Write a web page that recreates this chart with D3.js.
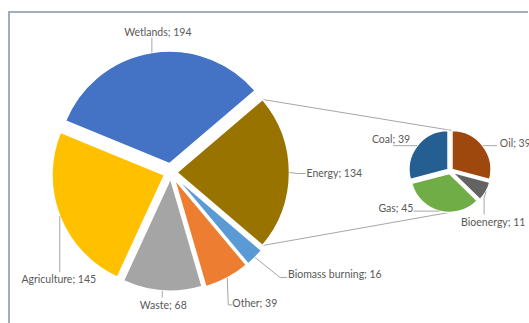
<!DOCTYPE html>
<html>
<head>
<meta charset="utf-8">
<script src="https://cdn.jsdelivr.net/npm/d3@7"></script>
<style>
  body { margin: 0; background: #fff; }
  svg text { font-family: Lato, "Liberation Sans", sans-serif; font-size: 10.5px; fill: #595959; }
</style>
</head>
<body>
<div id="chart"></div>
<script>
// main pie
var mainNames = ["Wetlands", "Energy", "Biomass burning", "Other", "Waste", "Agriculture"];
var mainValues = [194, 134, 16, 39, 68, 145];
var mainColors = ["#4472c4", "#997300", "#5b9bd5", "#ed7d31", "#a5a5a5", "#ffc000"];
// energy breakdown
var subNames = ["Oil", "Bioenergy", "Gas", "Coal"];
var subValues = [39, 11, 45, 39];
var subColors = ["#9e480e", "#636363", "#70ad47", "#255e91"];

var width = 529, height = 323;
var svg = d3.select("#chart").append("svg")
  .attr("width", width).attr("height", height);

// frame
svg.append("path")
  .attr("d", "M9," + height + "V12H" + (width - 1))
  .attr("fill", "none").attr("stroke", "#a4acbf").attr("stroke-width", 2);

var lineColor = "#a6a6a6";

var main = { cx: 171, cy: 172.5, r: 112.5 };
var sub = { cx: 450, cy: 171, r: 39 };

var total = d3.sum(mainValues);
var eIdx = 1;
var before = d3.sum(mainValues.slice(0, eIdx)) + mainValues[eIdx] / 2;
var start = Math.PI / 2 - before / total * 2 * Math.PI;

var mainPie = d3.pie().sort(null).startAngle(start).endAngle(start + 2 * Math.PI);
var mainArcs = mainPie(mainValues);
var mainExplode = [9, 6, 7, 7, 6, 7];

var subPie = d3.pie().sort(null);
var subArcs = subPie(subValues);
var subExplode = 2.5;

function dir(a) { return [Math.sin(a), -Math.cos(a)]; }
function mid(d) { return (d.startAngle + d.endAngle) / 2; }

var arcMain = d3.arc().innerRadius(0).outerRadius(main.r);
var arcSub = d3.arc().innerRadius(0).outerRadius(sub.r);

function offsetOf(d, e) { var v = dir(mid(d)); return [v[0] * e, v[1] * e]; }

// connector lines between energy slice and breakdown pie
var ea = mainArcs[eIdx], eo = offsetOf(ea, mainExplode[eIdx]);
var eTop = [main.cx + eo[0] + dir(ea.startAngle)[0] * main.r, main.cy + eo[1] + dir(ea.startAngle)[1] * main.r];
var eBot = [main.cx + eo[0] + dir(ea.endAngle)[0] * main.r, main.cy + eo[1] + dir(ea.endAngle)[1] * main.r];
var so = offsetOf(subArcs[0], subExplode);
var sTop = [sub.cx + so[0], sub.cy + so[1] - sub.r];
var go = offsetOf(subArcs[2], subExplode);
var sBot = [sub.cx + go[0], sub.cy + go[1] + sub.r];
svg.append("line").attr("x1", eTop[0]).attr("y1", eTop[1]).attr("x2", sTop[0]).attr("y2", sTop[1])
  .attr("stroke", lineColor).attr("stroke-width", 1);
svg.append("line").attr("x1", eBot[0]).attr("y1", eBot[1]).attr("x2", sBot[0]).attr("y2", sBot[1])
  .attr("stroke", lineColor).attr("stroke-width", 1);

svg.append("g").selectAll("path").data(mainArcs).enter().append("path")
  .attr("d", arcMain)
  .attr("transform", function(d, i) {
    var o = offsetOf(d, mainExplode[i]);
    return "translate(" + (main.cx + o[0]) + "," + (main.cy + o[1]) + ")";
  })
  .attr("fill", function(d, i) { return mainColors[i]; })
  .attr("stroke", "#fff").attr("stroke-width", 1.5);

svg.append("g").selectAll("path").data(subArcs).enter().append("path")
  .attr("d", arcSub)
  .attr("transform", function(d) {
    var o = offsetOf(d, subExplode);
    return "translate(" + (sub.cx + o[0]) + "," + (sub.cy + o[1]) + ")";
  })
  .attr("fill", function(d, i) { return subColors[i]; })
  .attr("stroke", "#fff").attr("stroke-width", 1.5);

// label leaders: path from the outer edge, then text placement (relative to leader end)
var mainLab = [
  { pts: [[0, -15]], tx: 6, ty: -5, anchor: "middle" },
  { pts: [[8, 1], [16, 1]], tx: 1, ty: 0, anchor: "start" },
  { pts: [[25, 20], [32, 20]], tx: 1, ty: -3, anchor: "start" },
  { pts: [[1, 27], [5, 27]], tx: 0, ty: -2, anchor: "start" },
  { pts: [[0, 7]], tx: 1, ty: 8, anchor: "middle" },
  { pts: [[0, 56]], tx: -1, ty: 7, anchor: "middle" }
];
var subLab = [
  { pts: [[14, 0]], tx: 3, ty: -2, anchor: "start" },
  { pts: [[-2, 6], [-2, 23]], tx: -23, ty: 8, anchor: "start" },
  { pts: [[-26, 0]], tx: 0, ty: -3, anchor: "end" },
  { pts: [[-24, 0]], tx: 17, ty: -6, anchor: "end" }
];

function drawLabels(arcs, names, values, labs, c, r, expl) {
  arcs.forEach(function(d, i) {
    var e = typeof expl === "number" ? expl : expl[i];
    var v = dir(mid(d));
    var p0 = [c.cx + v[0] * (r + e), c.cy + v[1] * (r + e)];
    var L = labs[i];
    var pts = [p0].concat(L.pts.map(function(p) { return [p0[0] + p[0], p0[1] + p[1]]; }));
    svg.append("path").attr("d", d3.line()(pts))
      .attr("fill", "none").attr("stroke", lineColor).attr("stroke-width", 1);
    var end = pts[pts.length - 1];
    svg.append("text")
      .attr("x", end[0] + L.tx).attr("y", end[1] + L.ty)
      .attr("dy", "0.35em")
      .attr("text-anchor", L.anchor)
      .text(names[i] + "; " + values[i]);
  });
}
drawLabels(mainArcs, mainNames, mainValues, mainLab, main, main.r, mainExplode);
drawLabels(subArcs, subNames, subValues, subLab, sub, sub.r, subExplode);
</script>
</body>
</html>
